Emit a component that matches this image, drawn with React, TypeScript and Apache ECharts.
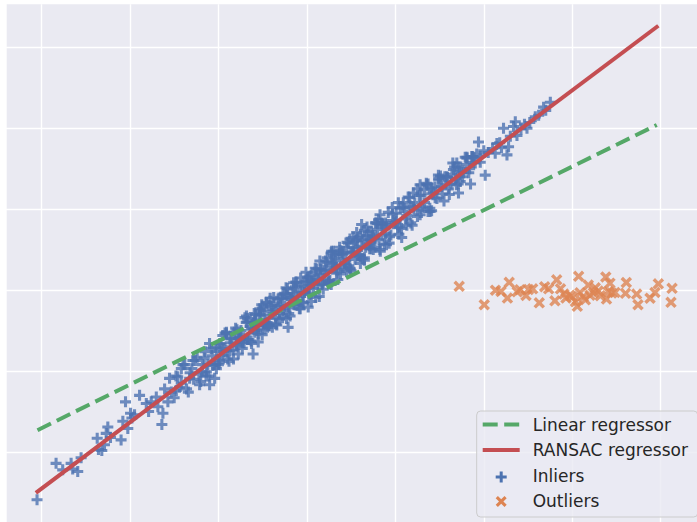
import React, { useEffect, useRef } from "react";
import * as echarts from "echarts";

// Inlier points (x, y)
const inliersSparse: [number, number][] = [
  [-3.05, -259], [-2.835, -214], [-2.76, -222], [-2.665, -214], [-2.647, -221], [-2.59, -224], [-2.552, -207],
  [-2.37, -183], [-2.356, -197], [-2.318, -198], [-2.288, -191], [-2.25, -169], [-2.268, -177], [-2.22, -182],
  [-2.1, -185], [-2.08, -162], [-2.05, -138], [-2.024, -171], [-1.993, -152], [-1.978, -158], [-1.948, -154],
  [-1.891, -130], [-1.815, -140], [-1.789, -150], [-1.759, -138], [-1.702, -132], [-1.684, -144], [-1.639, -166],
  [-1.627, -152], [-1.608, -122], [-1.571, -138], [-1.532, -126],
  [-1.552, -109], [-1.476, -124], [-1.419, -97], [-1.325, -109], [-1.288, -87], [-1.212, -117], [-1.136, -101],
  [-1.099, -117], [-1.042, -109], [-1.023, -97], [-0.985, -87], [-0.948, -72], [-0.909, -52], [-0.872, -75],
  [-0.796, -68], [-0.759, -60], [-0.683, -32], [-0.608, -79], [-0.589, -52], [-0.57, -44], [-0.532, -23],
  [-0.456, -15], [-0.476, -48],
  [-0.212, -46], [0.015, -21], [0.147, 36], [0.28, 48], [0.487, 63], [0.563, 71],
  [1.487, 142], [1.582, 140], [1.28, 93], [1.393, 97], [1.072, 65], [0.827, 93], [0.619, 81], [0.298, 48],
  [1.034, 108], [1.356, 130],
  [2.752, 232], [2.676, 226], [2.582, 214], [2.488, 200], [2.356, 208], [2.336, 202], [2.223, 200], [2.375, 191],
  [2.262, 167], [2.148, 181], [2.129, 169], [2.28, 177], [1.94, 183], [2.016, 142], [1.809, 163], [1.695, 157],
  [1.733, 134], [1.714, 120], [1.657, 149], [1.412, 126], [1.204, 120], [1.28, 130], [1.903, 157], [1.959, 165],
  [1.865, 165],
  [2.05, 170], [2.1, 175], [2.18, 182], [2.2, 176], [2.3, 190], [2.42, 199], [2.46, 205], [2.52, 207],
  [2.62, 216], [2.7, 222],
  [1.52, 128], [1.56, 140], [1.6, 125], [1.64, 143], [1.68, 138], [1.72, 152], [1.76, 140], [1.8, 155],
  [1.84, 150], [1.88, 158], [1.92, 168], [1.96, 158], [2.0, 172],
];

// Dense core of the inlier band (estimated)
const inliersCore: [number, number][] = [
  [-1.5, -133], [-1.46, -107], [-1.42, -115], [-1.38, -92], [-1.34, -126], [-1.3, -97], [-1.26, -87], [-1.22, -104],
  [-1.18, -92], [-1.14, -106], [-1.1, -66], [-1.06, -93], [-1.02, -76],
  [-1.48, -106], [-1.44, -120], [-1.4, -92], [-1.36, -122], [-1.32, -102], [-1.28, -110], [-1.24, -83], [-1.2, -113],
  [-1.16, -84], [-1.12, -92], [-1.08, -72], [-1.04, -92],
  [-1.0, -92], [-0.97, -67], [-0.94, -76], [-0.91, -54], [-0.88, -88], [-0.85, -60], [-0.82, -52], [-0.79, -69],
  [-0.76, -58], [-0.73, -72], [-0.7, -34], [-0.67, -61], [-0.64, -45], [-0.61, -48], [-0.58, -30], [-0.55, -64],
  [-0.52, -31], [-0.49, -42], [-0.46, -16], [-0.43, -44], [-0.4, -26], [-0.37, -17], [-0.34, -43], [-0.31, -36],
  [-0.28, -11], [-0.25, -20], [-0.22, 2], [-0.19, -32], [-0.16, -4], [-0.13, 4], [-0.1, -13], [-0.07, -2],
  [-0.04, -16], [-0.01, 22], [0.02, -5], [0.05, 11], [0.08, 8], [0.11, 26], [0.14, -8], [0.17, 25], [0.2, 14],
  [0.23, 40], [0.26, 12], [0.29, 30], [0.32, 39], [0.35, 13], [0.38, 20], [0.41, 45], [0.44, 36], [0.47, 58],
  [0.5, 24], [0.53, 52], [0.56, 61], [0.59, 43], [0.62, 54], [0.65, 40], [0.68, 78], [0.71, 51], [0.74, 67],
  [0.77, 64], [0.8, 82], [0.83, 48], [0.86, 81], [0.89, 70], [0.92, 96], [0.95, 68], [0.98, 86], [1.01, 95],
  [1.04, 69], [1.07, 76], [1.1, 101], [1.13, 92], [1.16, 114], [1.19, 80], [1.22, 108],
  [-0.985, -66], [-0.955, -81], [-0.925, -53], [-0.895, -85], [-0.865, -65], [-0.835, -74], [-0.805, -47],
  [-0.775, -79], [-0.745, -50], [-0.715, -59], [-0.685, -40], [-0.655, -61], [-0.625, -48], [-0.595, -29],
  [-0.565, -50], [-0.535, -30], [-0.505, -55], [-0.475, -31], [-0.445, -46], [-0.415, -10], [-0.385, -29],
  [-0.355, -35], [-0.325, -11], [-0.295, -10], [-0.265, -25], [-0.235, 3], [-0.205, -29], [-0.175, -9],
  [-0.145, -18], [-0.115, 9], [-0.085, -23], [-0.055, 6], [-0.025, -3], [0.005, 16], [0.035, -5], [0.065, 8],
  [0.095, 27], [0.125, 6], [0.155, 26], [0.185, 1], [0.215, 25], [0.245, 10], [0.275, 46], [0.305, 27],
  [0.335, 21], [0.365, 45], [0.395, 46], [0.425, 32], [0.455, 59], [0.485, 27], [0.515, 47], [0.545, 38],
  [0.575, 65], [0.605, 33], [0.635, 62], [0.665, 53], [0.695, 72], [0.725, 51], [0.755, 64], [0.785, 83],
  [0.815, 62], [0.845, 82], [0.875, 57], [0.905, 81], [0.935, 66], [0.965, 102], [0.995, 83], [1.025, 77],
  [1.055, 101], [1.085, 102], [1.115, 88], [1.145, 115], [1.175, 83], [1.205, 103],
  [-0.6, -41], [-0.55, -54], [-0.5, -22], [-0.45, -40], [-0.4, -20], [-0.35, -42], [-0.3, -19], [-0.25, -4],
  [-0.2, -22], [-0.15, 9], [-0.1, -8], [-0.05, -15], [0.0, 10], [0.05, 18], [0.1, -9], [0.15, 19], [0.2, 24],
  [0.25, 11], [0.3, 43], [0.35, 25], [0.4, 44], [0.45, 23], [0.5, 46], [0.55, 61], [0.6, 43], [0.65, 74],
  [0.7, 57], [0.75, 50], [0.8, 75], [0.85, 83], [0.9, 56],
  [1.25, 91], [1.29, 117], [1.33, 108], [1.37, 131], [1.41, 98], [1.45, 127], [1.49, 136], [1.53, 119],
  [1.57, 131], [1.61, 118], [1.65, 157], [1.69, 130], [1.73, 147], [1.77, 145], [1.81, 164], [1.85, 131],
  [1.89, 164],
  [1.27, 117], [1.31, 103], [1.35, 132], [1.39, 101], [1.43, 121], [1.47, 113], [1.51, 141], [1.55, 110],
  [1.59, 139], [1.63, 131], [1.67, 152], [1.71, 131], [1.75, 145], [1.79, 164], [1.83, 145], [1.87, 165],
  [-1.19, -101], [-1.15, -76], [-1.11, -106], [-1.07, -81], [-1.03, -71], [-0.99, -90], [-0.95, -56], [-0.91, -75],
  [-0.87, -60], [-0.83, -85], [-0.79, -49], [-0.75, -58], [-0.71, -65], [-0.67, -35], [-0.63, -63], [-0.59, -39],
  [-0.55, -44], [-0.51, -18], [-0.47, -43], [-0.43, -19], [-0.39, -46], [-0.35, -24], [-0.31, -29], [-0.27, -5],
  [-0.23, -35], [-0.19, -9], [-0.15, 1], [-0.11, -19], [-0.07, 15], [-0.03, -3], [0.01, 12], [0.05, -14],
  [0.09, 22], [0.13, 14], [0.17, 7], [0.21, 36], [0.25, 8], [0.29, 33], [0.33, 28], [0.37, 53], [0.41, 28],
  [0.45, 53], [0.49, 26], [0.53, 47], [0.57, 42], [0.61, 67], [0.65, 37], [0.69, 62], [0.73, 72], [0.77, 53],
  [0.81, 87], [0.85, 68], [0.89, 83], [0.93, 58], [0.97, 94], [1.01, 85], [1.05, 78], [1.09, 108], [1.13, 80],
  [1.17, 104], [1.21, 99], [1.25, 125], [1.29, 100], [1.33, 124], [1.37, 97], [1.41, 119], [1.45, 114], [1.49, 138],
  [-0.775, -60], [-0.725, -65], [-0.675, -39], [-0.625, -66], [-0.575, -37], [-0.525, -25], [-0.475, -41],
  [-0.425, -44], [-0.375, -9], [-0.325, -20], [-0.275, -34], [-0.225, -6], [-0.175, -12], [-0.125, 10],
  [-0.075, -23], [-0.025, 5], [0.025, 16], [0.075, 2], [0.125, 13], [0.175, 8], [0.225, 34], [0.275, 7],
  [0.325, 36], [0.375, 49], [0.425, 33], [0.475, 30], [0.525, 65], [0.575, 53], [0.625, 39], [0.675, 67],
  [0.725, 61], [0.775, 83], [0.825, 50], [0.875, 78],
];

// Outlier points (x, y)
const outliers: [number, number][] = [
  [1.722, 4.7], [2.005, -18.1], [2.132, -0.2], [2.194, -1.7], [2.287, 9.6], [2.267, -9.9], [2.378, -2.1],
  [2.477, -6.7], [2.505, 0.7], [2.552, 1.6], [2.627, -15.7], [2.733, 1.6], [2.804, -13.2], [2.824, 12.7],
  [2.867, 1.6], [2.906, -4.9], [2.929, -9.9], [2.974, -6.4], [3.036, -14.4], [3.072, 17], [3.057, -20],
  [3.125, -8.3], [3.181, 6.2], [3.2, -6.2], [3.238, -3.3], [3.294, -1.2], [3.379, 16.2], [3.426, 8.6],
  [3.407, -2.1], [3.387, -11.1], [3.446, -3.7], [3.483, -3], [3.611, 9.4], [3.602, -4], [3.728, -4.9],
  [3.743, -18.1], [3.879, -10.1], [3.935, -3], [3.973, 7.8], [4.128, 2.2], [4.116, -15.1],
  [3.0, -8.4], [3.087, -3.3], [2.409, 0.4], [2.688, 4.1], [3.317, -7], [3.148, -12], [3.26, 2.8],
];

// Fitted lines
const lineX = [-3.045, 3.955];
const linearY = [-173, 204];
const ransacY = [-249, 325];

const BLUE = "#4C72B0";
const ORANGE = "#DD8452";
const GREEN = "#55A868";
const RED = "#C44E52";
const BG = "#EAEAF2";
const TEXT = "#262626";

const PLUS = "path://M3.6,0H6.4V3.6H10V6.4H6.4V10H3.6V6.4H0V3.6H3.6Z";
const CROSS = "path://M0,2.1L2.1,0L5,2.9L7.9,0L10,2.1L7.1,5L10,7.9L7.9,10L5,7.1L2.1,10L0,7.9L2.9,5Z";

// Offset of the drawing surface relative to the page
const OX = 46.7;

const plusPts = (cx: number, cy: number, h = 5.5, t = 1.5) => [
  [cx - t, cy - h], [cx + t, cy - h], [cx + t, cy - t], [cx + h, cy - t], [cx + h, cy + t], [cx + t, cy + t],
  [cx + t, cy + h], [cx - t, cy + h], [cx - t, cy + t], [cx - h, cy + t], [cx - h, cy - t], [cx - t, cy - t],
];
const crossPts = (cx: number, cy: number) => {
  const s = 2.2, h = 5.5;
  return [
    [cx - h, cy - h + s], [cx - h + s, cy - h], [cx, cy - s], [cx + h - s, cy - h], [cx + h, cy - h + s],
    [cx + s, cy], [cx + h, cy + h - s], [cx + h - s, cy + h], [cx, cy + s], [cx - h + s, cy + h],
    [cx - h, cy + h - s], [cx - s, cy],
  ];
};

export default function App() {
  const ref = useRef<HTMLDivElement>(null);
  useEffect(() => {
    if (!ref.current) return;
    const chart = echarts.init(ref.current, undefined, { renderer: "svg" });
    const zip = (xs: number[], ys: number[]) => xs.map((x, i) => [x, ys[i]]);
    const splitLine = { show: true, showMinLine: false, showMaxLine: false, lineStyle: { color: "#ffffff", width: 1.4 } };
    const textStyle = (y: number, text: string) => ({
      type: "text", z: 102, x: 533 + OX, y,
      style: { text, fill: TEXT, fontSize: 17, fontFamily: "DejaVu Sans", verticalAlign: "middle", align: "left" },
    });
    chart.setOption({
      animation: false,
      backgroundColor: "#ffffff",
      grid: { show: true, backgroundColor: BG, borderWidth: 0, left: 0, right: 0, top: 4.3, bottom: 0 },
      xAxis: {
        type: "value", min: -4, max: 4.41, interval: 1,
        axisLine: { show: false }, axisTick: { show: false }, axisLabel: { show: false }, splitLine,
      },
      yAxis: {
        type: "value", min: -300, max: 353, interval: 100,
        axisLine: { show: false }, axisTick: { show: false }, axisLabel: { show: false }, splitLine,
      },
      series: [
        {
          name: "Inliers", type: "scatter", symbol: PLUS, symbolSize: 11,
          itemStyle: { color: BLUE }, data: [...inliersSparse, ...inliersCore],
        },
        {
          name: "Outliers", type: "scatter", symbol: CROSS, symbolSize: 11.5,
          itemStyle: { color: ORANGE }, data: outliers,
        },
        {
          name: "Linear regressor", type: "line", symbol: "none", data: zip(lineX, linearY),
          lineStyle: { color: GREEN, width: 4, type: [15, 6.5], cap: "butt" },
        },
        {
          name: "RANSAC regressor", type: "line", symbol: "none", data: zip(lineX, ransacY),
          lineStyle: { color: RED, width: 4, cap: "square" },
        },
      ],
      graphic: [
        { type: "rect", z: 100, shape: { x: 0, y: 0, width: OX + 7, height: 534 }, style: { fill: "#ffffff" } },
        {
          type: "rect", z: 100, shape: { x: 477 + OX, y: 411, width: 221, height: 106, r: 4 },
          style: { fill: "rgba(234,234,242,0.8)", stroke: "#cccccc", lineWidth: 1 },
        },
        {
          type: "line", z: 101, shape: { x1: 483 + OX, y1: 424.5, x2: 520 + OX, y2: 424.5 },
          style: { stroke: GREEN, lineWidth: 4, lineDash: [15, 6.5] },
        },
        {
          type: "line", z: 101, shape: { x1: 483 + OX, y1: 450, x2: 520 + OX, y2: 450 },
          style: { stroke: RED, lineWidth: 4 },
        },
        { type: "polygon", z: 101, shape: { points: plusPts(501.5 + OX, 477) }, style: { fill: BLUE } },
        { type: "polygon", z: 101, shape: { points: crossPts(501.5 + OX, 501.5) }, style: { fill: ORANGE } },
        textStyle(424.5, "Linear regressor"),
        textStyle(450, "RANSAC regressor"),
        textStyle(476, "Inliers"),
        textStyle(501, "Outliers"),
      ],
    });
    return () => chart.dispose();
  }, []);
  return (
    <div style={{ position: "fixed", left: 0, top: 0, width: 697, height: 522, overflow: "hidden", background: "#ffffff" }}>
      <div ref={ref} style={{ position: "absolute", left: -OX, top: 0, width: 697 + OX, height: 533.3 }} />
    </div>
  );
}
